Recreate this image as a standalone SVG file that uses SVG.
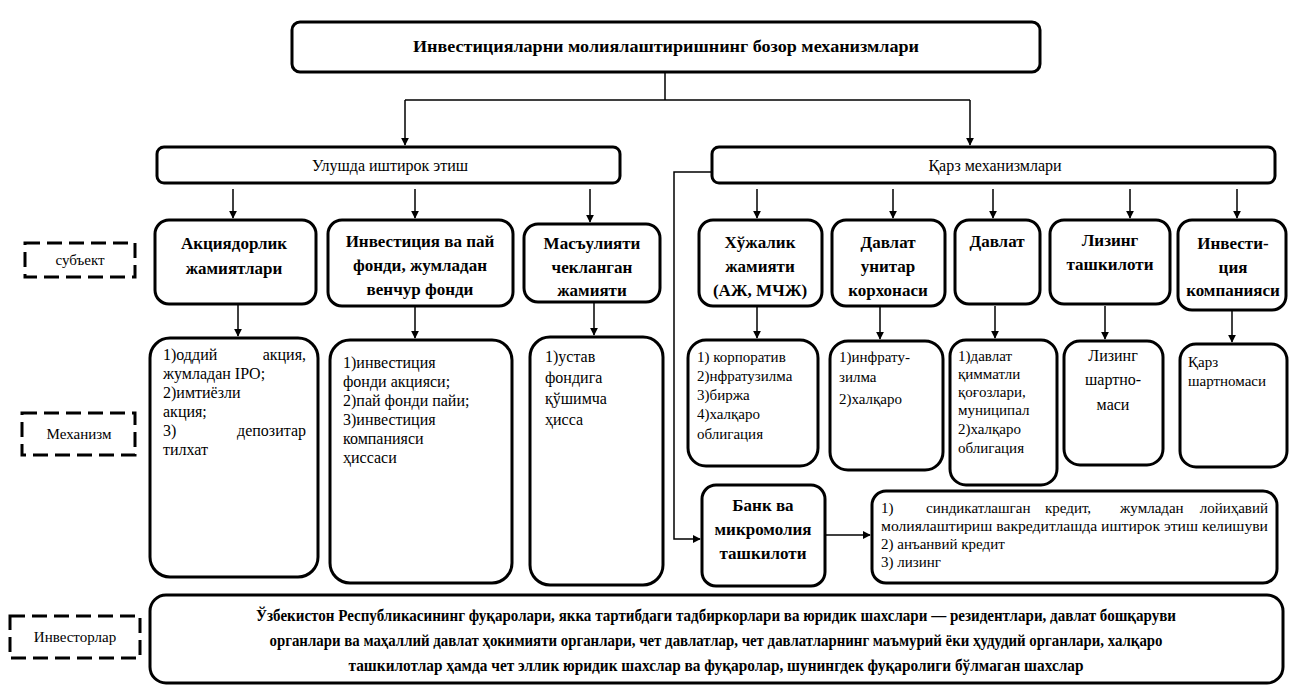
<svg xmlns="http://www.w3.org/2000/svg" width="1290" height="686" viewBox="0 0 1290 686" font-family="'Liberation Serif', 'Times New Roman', 'DejaVu Serif', serif">
<style>
.b{fill:#fff;stroke:#000;stroke-width:3}
.d{fill:#fff;stroke:#000;stroke-width:3;stroke-dasharray:15 7}
.c{fill:none;stroke:#000;stroke-width:1.5}
text{font-family:'Liberation Serif','Times New Roman','DejaVu Serif',serif;fill:#000}
.t{font-size:16px;font-weight:bold}
.h{font-size:16px}
.s{font-size:17px;font-weight:bold;text-anchor:middle}
.m{font-size:15px}
.m6{font-size:16px}
.mc{font-size:16px;text-anchor:middle}
.l{font-size:15px;text-anchor:middle}
.e{text-anchor:end}
</style>
<defs>
<marker id="a" viewBox="0 0 10 10" refX="9" refY="5" markerWidth="8" markerHeight="8" markerUnits="userSpaceOnUse" orient="auto"><path d="M0,0L10,5L0,10z" fill="#000"/></marker>
</defs>
<g id="connectors">
<path class="c" d="M665,72V100M405,100H970"/>
<path class="c" d="M405,100V145" marker-end="url(#a)"/>
<path class="c" d="M970,100V145" marker-end="url(#a)"/>
<path class="c" d="M233,189V218" marker-end="url(#a)"/>
<path class="c" d="M415,189V218" marker-end="url(#a)"/>
<path class="c" d="M590,189V222" marker-end="url(#a)"/>
<path class="c" d="M757,189V218" marker-end="url(#a)"/>
<path class="c" d="M893,189V218" marker-end="url(#a)"/>
<path class="c" d="M993,189V218" marker-end="url(#a)"/>
<path class="c" d="M1130,189V218" marker-end="url(#a)"/>
<path class="c" d="M1237,189V218" marker-end="url(#a)"/>
<path class="c" d="M238,305V336" marker-end="url(#a)"/>
<path class="c" d="M415,306V338" marker-end="url(#a)"/>
<path class="c" d="M594,302V335" marker-end="url(#a)"/>
<path class="c" d="M757,307V338" marker-end="url(#a)"/>
<path class="c" d="M880,307V339" marker-end="url(#a)"/>
<path class="c" d="M995,306V338" marker-end="url(#a)"/>
<path class="c" d="M1105,306V339" marker-end="url(#a)"/>
<path class="c" d="M1232,311V342" marker-end="url(#a)"/>
<path class="c" d="M712,172H674V539H700" marker-end="url(#a)"/>
<path class="c" d="M825,535H870" marker-end="url(#a)"/>
</g>
<g id="n-top"><rect class="b" x="292" y="22" width="748" height="50" rx="8"/><text class="t" x="666" y="52" text-anchor="middle" textLength="506" lengthAdjust="spacingAndGlyphs">Инвестицияларни молиялаштиришнинг бозор механизмлари</text></g>
<g id="n-ulush"><rect class="b" x="157" y="147" width="463" height="36" rx="7"/><text class="h" x="390" y="171" text-anchor="middle">Улушда иштирок этиш</text></g>
<g id="n-qarz"><rect class="b" x="712" y="147" width="563" height="36" rx="7"/><text class="h" x="995" y="171" text-anchor="middle">Қарз механизмлари</text></g>
<g id="lbl-subekt"><rect class="d" x="25" y="243" width="110" height="34"/><text class="l" x="80" y="265">субъект</text></g>
<g id="lbl-mexanizm"><rect class="d" x="22" y="413" width="113" height="42"/><text class="l" x="79" y="439">Механизм</text></g>
<g id="lbl-investor"><rect class="d" x="10" y="616" width="130" height="42"/><text class="l" x="75" y="642">Инвесторлар</text></g>
<g id="s1"><rect class="b" x="155" y="220" width="161" height="84" rx="14"/><text class="s" x="234" y="249">Акциядорлик</text><text class="s" x="234" y="274">жамиятлари</text></g>
<g id="s2"><rect class="b" x="328" y="220" width="185" height="86" rx="14"/><text class="s" x="420" y="247">Инвестиция ва пай</text><text class="s" x="420" y="271">фонди, жумладан</text><text class="s" x="420" y="295">венчур фонди</text></g>
<g id="s3"><rect class="b" x="524" y="224" width="136" height="78" rx="14"/><text class="s" x="592" y="249">Масъулияти</text><text class="s" x="592" y="273">чекланган</text><text class="s" x="592" y="296">жамияти</text></g>
<g id="s4"><rect class="b" x="699" y="220" width="123" height="86" rx="14"/><text class="s" x="760" y="248">Хўжалик</text><text class="s" x="760" y="272">жамияти</text><text class="s" x="760" y="296">(АЖ, МЧЖ)</text></g>
<g id="s5"><rect class="b" x="832" y="220" width="113" height="86" rx="14"/><text class="s" x="888" y="248">Давлат</text><text class="s" x="888" y="272">унитар</text><text class="s" x="888" y="296">корхонаси</text></g>
<g id="s6"><rect class="b" x="955" y="220" width="85" height="84" rx="14"/><text class="s" x="997" y="247">Давлат</text></g>
<g id="s7"><rect class="b" x="1050" y="220" width="120" height="84" rx="14"/><text class="s" x="1110" y="246">Лизинг</text><text class="s" x="1110" y="270">ташкилоти</text></g>
<g id="s8"><rect class="b" x="1178" y="220" width="108" height="90" rx="14"/><text class="s" x="1233" y="249">Инвести-</text><text class="s" x="1233" y="273">ция</text><text class="s" x="1233" y="296">компанияси</text></g>
<g id="m1"><rect class="b" x="150" y="338" width="168" height="239" rx="20"/><text class="m6" x="163" y="360">1)оддий</text><text class="m6 e" x="306" y="360">акция,</text><text class="m6" x="163" y="379">жумладан IPO;</text><text class="m6" x="163" y="398">2)имтиёзли</text><text class="m6" x="163" y="417">акция;</text><text class="m6" x="163" y="436">3)</text><text class="m6 e" x="306" y="436">депозитар</text><text class="m6" x="163" y="455">тилхат</text></g>
<g id="m2"><rect class="b" x="330" y="340" width="182" height="243" rx="20"/><text class="m6" x="343" y="368">1)инвестиция</text><text class="m6" x="343" y="387">фонди акцияси;</text><text class="m6" x="343" y="406">2)пай фонди пайи;</text><text class="m6" x="343" y="425">3)инвестиция</text><text class="m6" x="343" y="444">компанияси</text><text class="m6" x="343" y="463">ҳиссаси</text></g>
<g id="m3"><rect class="b" x="530" y="337" width="133" height="248" rx="20"/><text class="m6" x="545" y="362">1)устав</text><text class="m6" x="545" y="383">фондига</text><text class="m6" x="545" y="404">қўшимча</text><text class="m6" x="545" y="425">ҳисса</text></g>
<g id="m4"><rect class="b" x="688" y="340" width="130" height="126" rx="18"/><text class="m" x="697" y="362">1) корпоратив</text><text class="m" x="697" y="381">2)нфратузилма</text><text class="m" x="697" y="400">3)биржа</text><text class="m" x="697" y="419">4)халқаро</text><text class="m" x="697" y="439">облигация</text></g>
<g id="m5"><rect class="b" x="830" y="341" width="113" height="129" rx="18"/><text class="m" x="839" y="362">1)инфрату-</text><text class="m" x="839" y="382">зилма</text><text class="m" x="839" y="404">2)халқаро</text></g>
<g id="m6"><rect class="b" x="950" y="340" width="107" height="145" rx="16"/><text class="m" x="958" y="361">1)давлат</text><text class="m" x="958" y="379">қимматли</text><text class="m" x="958" y="397">қоғозлари,</text><text class="m" x="958" y="415">муниципал</text><text class="m" x="958" y="434">2)халқаро</text><text class="m" x="958" y="453">облигация</text></g>
<g id="m7"><rect class="b" x="1064" y="341" width="99" height="124" rx="16"/><text class="mc" x="1113" y="361">Лизинг</text><text class="mc" x="1113" y="385">шартно-</text><text class="mc" x="1113" y="410">маси</text></g>
<g id="m8"><rect class="b" x="1180" y="344" width="107" height="123" rx="16"/><text class="m" x="1188" y="367">Қарз</text><text class="m" x="1188" y="386">шартномаси</text></g>
<g id="n-bank"><rect class="b" x="702" y="485" width="123" height="101" rx="14"/><text class="s" x="763" y="511">Банк ва</text><text class="s" x="763" y="535">микромолия</text><text class="s" x="763" y="559">ташкилоти</text></g>
<g id="n-kredit"><rect class="b" x="872" y="491" width="405" height="92" rx="14"/><text class="m" x="881" y="513">1)</text><text class="m" x="926" y="513">синдикатлашган</text><text class="m" x="1045" y="513">кредит,</text><text class="m" x="1120" y="513">жумладан</text><text class="m e" x="1268" y="513">лойиҳавий</text><text class="m" x="881" y="531" textLength="387" lengthAdjust="spacingAndGlyphs">молиялаштириш вакредитлашда иштирок этиш келишуви</text><text class="m" x="881" y="549">2) анъанвий кредит</text><text class="m" x="881" y="567">3) лизинг</text></g>
<g id="n-investor"><rect class="b" x="150" y="595" width="1133" height="88" rx="16"/><text class="t" x="716" y="621" text-anchor="middle" textLength="920" lengthAdjust="spacingAndGlyphs">Ўзбекистон Республикасининг фуқаролари, якка тартибдаги тадбиркорлари ва юридик шахслари — резидентлари, давлат бошқаруви</text><text class="t" x="716" y="646" text-anchor="middle" textLength="893" lengthAdjust="spacingAndGlyphs">органлари ва маҳаллий давлат ҳокимияти органлари, чет давлатлар, чет давлатларнинг маъмурий ёки ҳудудий органлари, халқаро</text><text class="t" x="716" y="671" text-anchor="middle" textLength="735" lengthAdjust="spacingAndGlyphs">ташкилотлар ҳамда чет эллик юридик шахслар ва фуқаролар, шунингдек фуқаролиги бўлмаган шахслар</text></g>
</svg>
